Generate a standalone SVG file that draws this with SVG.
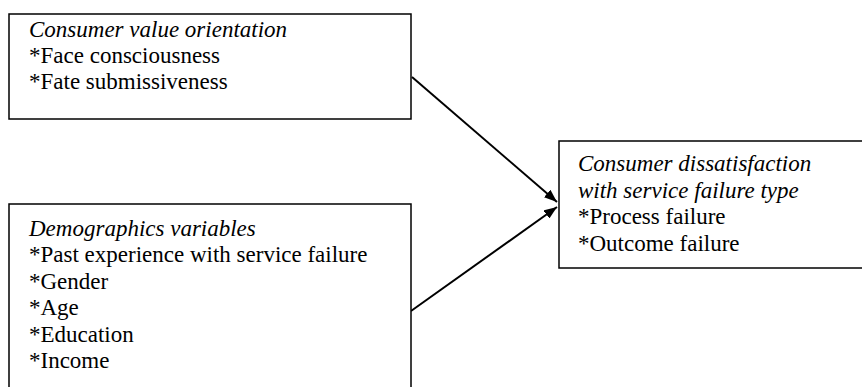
<svg xmlns="http://www.w3.org/2000/svg" width="862" height="387" viewBox="0 0 862 387">
<defs>
<style>
.box{fill:#fff;stroke:#000;stroke-width:1.5}
text{font-family:"Liberation Serif","Times New Roman",serif;font-size:23px;fill:#000}
.t{font-style:italic}
.c{stroke:#000;stroke-width:2;fill:none}
</style>
<marker id="ah" viewBox="0 0 13 10" refX="13" refY="5" markerWidth="13" markerHeight="10" markerUnits="userSpaceOnUse" orient="auto">
<path d="M0,0 L13,5 L0,10 Z" fill="#000"/>
</marker>
</defs>
<rect width="862" height="387" fill="#fff"/>
<g id="connectors">
<line class="c" x1="412" y1="77" x2="557" y2="202" marker-end="url(#ah)"/>
<line class="c" x1="411" y1="311" x2="557" y2="207" marker-end="url(#ah)"/>
</g>
<g id="node-values">
<rect class="box" x="9" y="14" width="402" height="105"/>
<text class="t" x="29" y="37">Consumer value orientation</text>
<text x="29" y="63">*Face consciousness</text>
<text x="29" y="89">*Fate submissiveness</text>
</g>
<g id="node-demographics">
<rect class="box" x="9" y="204" width="402" height="200"/>
<text class="t" x="29" y="236">Demographics variables</text>
<text x="29" y="262">*Past experience with service failure</text>
<text x="29" y="288.5">*Gender</text>
<text x="29" y="315">*Age</text>
<text x="29" y="341.5">*Education</text>
<text x="29" y="368">*Income</text>
</g>
<g id="node-dissatisfaction">
<rect class="box" x="559" y="141" width="320" height="127"/>
<text class="t" x="578" y="171">Consumer dissatisfaction</text>
<text class="t" x="578" y="197.5">with service failure type</text>
<text x="578" y="224">*Process failure</text>
<text x="578" y="250.5">*Outcome failure</text>
</g>
</svg>
